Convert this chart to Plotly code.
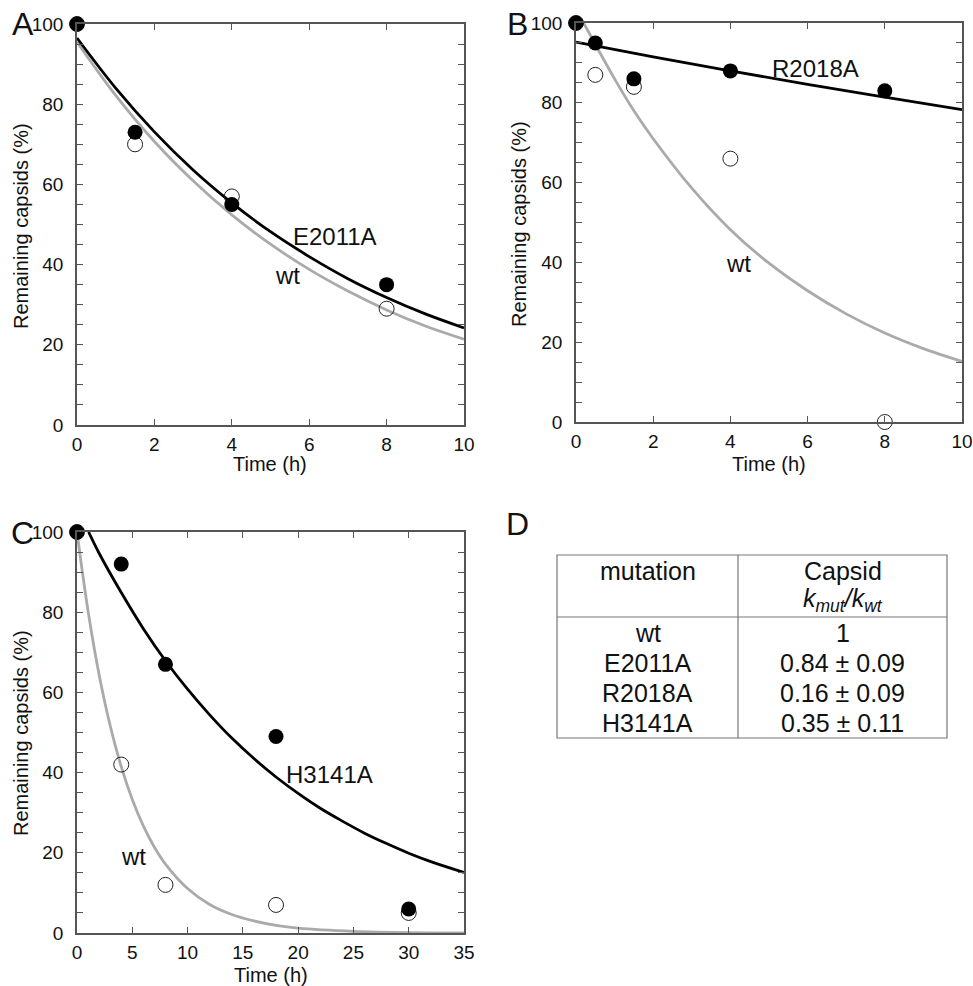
import plotly.graph_objects as go

W, H = 973, 986
FONT = "Liberation Sans, Arial, Helvetica, sans-serif"

# ---- Panel A: E2011A vs wt ----
a_time = [0, 1.5, 4, 8]
a_mut = [100, 73, 55, 35]
a_wt = [100, 70, 57, 29]
a_fit_t = [0, 1, 2, 3, 4, 5, 6, 7, 8, 9, 10]
a_fit_mut = [96.5, 84.0, 73.1, 63.6, 55.4, 48.2, 42.0, 36.5, 31.8, 27.7, 24.2]
a_fit_wt = [95.5, 82.2, 70.7, 60.9, 52.4, 45.1, 38.8, 33.4, 28.7, 24.7, 21.4]

# ---- Panel B: R2018A vs wt ----
b_time = [0, 0.5, 1.5, 4, 8]
b_mut = [100, 95, 86, 88, 83]
b_wt = [100, 87, 84, 66, 0]
b_fit_mut_t = [0, 2, 4, 6, 8, 10]
b_fit_mut = [95.2, 91.5, 88.0, 84.6, 81.4, 78.3]
b_fit_wt_t = [0.2, 1, 1.5, 2, 3, 4, 5, 6, 7, 8, 9, 10]
b_fit_wt = [100, 86.0, 78.0, 71.0, 58.6, 48.2, 39.8, 32.9, 27.1, 22.3, 18.4, 15.2]

# ---- Panel C: H3141A vs wt ----
c_time = [0, 4, 8, 18, 30]
c_mut = [100, 92, 67, 49, 6]
c_wt = [100, 42, 12, 7, 5]
c_fit_mut_t = [1.05, 2, 4, 6, 8, 10, 12, 14, 16, 18, 20, 22, 24, 26, 28, 30, 32, 35]
c_fit_mut = [100, 94.7, 84.9, 75.9, 67.9, 60.8, 54.4, 48.6, 43.5, 38.9, 34.8,
             31.1, 27.9, 24.9, 22.3, 19.9, 17.8, 15.1]
c_fit_wt_t = [0, 1, 2, 3, 4, 5, 6, 7, 8, 10, 12, 14, 16, 18, 20, 25, 30, 35]
c_fit_wt = [100, 80.3, 64.4, 51.7, 41.5, 33.3, 26.7, 21.4, 17.2, 11.1, 7.1,
            4.6, 3.0, 1.9, 1.2, 0.4, 0.1, 0.05]

# ---- Panel D: rate ratio table ----
tbl_mutation = ["wt", "E2011A", "R2018A", "H3141A"]
tbl_ratio = ["1", "0.84 \u00b1 0.09", "0.16 \u00b1 0.09", "0.35 \u00b1 0.11"]

BLACK = "#000000"
GREY = "#aaaaaa"
AXIS = "#555555"


def px(x):
    return x / W


def py(y):
    return 1 - y / H


fig = go.Figure()


def add_panel(n, t, mut, wt, fit_mut_t, fit_mut, fit_wt_t, fit_wt):
    xa = "x" if n == 1 else f"x{n}"
    ya = "y" if n == 1 else f"y{n}"
    fig.add_trace(go.Scatter(x=fit_wt_t, y=fit_wt, mode="lines", line_shape="spline",
                             line=dict(color=GREY, width=2.8), xaxis=xa, yaxis=ya,
                             showlegend=False, hoverinfo="skip"))
    fig.add_trace(go.Scatter(x=fit_mut_t, y=fit_mut, mode="lines", line_shape="spline",
                             line=dict(color=BLACK, width=2.8), xaxis=xa, yaxis=ya,
                             showlegend=False, hoverinfo="skip"))
    fig.add_trace(go.Scatter(x=t, y=wt, mode="markers", cliponaxis=False,
                             marker=dict(symbol="circle-open", size=15, color="#222222",
                                         line=dict(width=1)),
                             xaxis=xa, yaxis=ya, showlegend=False))
    fig.add_trace(go.Scatter(x=t, y=mut, mode="markers", cliponaxis=False,
                             marker=dict(symbol="circle", size=15, color=BLACK),
                             xaxis=xa, yaxis=ya, showlegend=False))


add_panel(1, a_time, a_mut, a_wt, a_fit_t, a_fit_mut, a_fit_t, a_fit_wt)
add_panel(2, b_time, b_mut, b_wt, b_fit_mut_t, b_fit_mut, b_fit_wt_t, b_fit_wt)
add_panel(3, c_time, c_mut, c_wt, c_fit_mut_t, c_fit_mut, c_fit_wt_t, c_fit_wt)

tickfont = dict(family=FONT, size=19, color="#111111")


def xaxis(domain, rng, dtick, anchor):
    return dict(domain=domain, range=rng, dtick=dtick, tick0=0, ticks="inside", ticklen=6,
                tickwidth=1.2, tickcolor=AXIS, showline=True, linecolor=AXIS, linewidth=1.5,
                mirror="ticks", showgrid=False, zeroline=False, tickfont=tickfont,
                ticklabelstandoff=1, anchor=anchor, fixedrange=True, automargin=False)


def yaxis(domain, anchor):
    return dict(domain=domain, range=[0, 100], dtick=20, tick0=0, ticks="inside", ticklen=6,
                tickwidth=1.2, tickcolor=AXIS, showline=True, linecolor=AXIS, linewidth=1.5,
                mirror="ticks", showgrid=False, zeroline=False, tickfont=tickfont,
                ticklabelstandoff=8, anchor=anchor, fixedrange=True, automargin=False,
                minor=dict(dtick=5, tick0=0, ticks="inside", ticklen=6, tickwidth=1.2,
                           tickcolor=AXIS, showgrid=False))


ax_a = [px(77), px(464)]
ay_a = [py(425), py(24)]
ax_b = [px(576), px(962)]
ay_b = [py(422), py(23)]
ax_c = [px(77), px(464)]
ay_c = [py(933), py(532)]

fig.update_layout(
    width=W, height=H, margin=dict(l=0, r=0, t=0, b=0, autoexpand=False),
    paper_bgcolor="white", plot_bgcolor="white",
    font=dict(family=FONT, color="#111111"),
    xaxis=xaxis(ax_a, [0, 10], 2, "y"),
    yaxis=yaxis(ay_a, "x"),
    xaxis2=xaxis(ax_b, [0, 10], 2, "y2"),
    yaxis2=yaxis(ay_b, "x2"),
    xaxis3=xaxis(ax_c, [0, 35], 5, "y3"),
    yaxis3=yaxis(ay_c, "x3"),
)

ann = []


def text(x, y, s, size, xref="paper", yref="paper", angle=0, **kw):
    ann.append(dict(x=x, y=y, xref=xref, yref=yref, text=s, showarrow=False,
                    textangle=angle, font=dict(family=FONT, size=size, color="#111111"),
                    xanchor="center", yanchor="middle", **kw))


# panel letters
text(px(23), py(24), "A", 32)
text(px(517), py(24), "B", 32)
text(px(22), py(533), "C", 32)
text(px(517), py(524), "D", 32)

# axis titles
for cx, cy in [(270, 464), (769, 464), (271, 975)]:
    text(px(cx), py(cy), "Time (h)", 20)
for cx, cy in [(21, 226), (519, 224), (21, 733)]:
    text(px(cx), py(cy), "Remaining capsids (%)", 20, angle=-90)

# curve labels
text(6.66, 47.0, "E2011A", 24, xref="x", yref="y")
text(5.45, 37.2, "wt", 24, xref="x", yref="y")
text(6.2, 88.7, "R2018A", 24, xref="x2", yref="y2")
text(4.21, 39.8, "wt", 24, xref="x2", yref="y2")
text(22.8, 39.5, "H3141A", 24, xref="x3", yref="y3")
text(5.1, 19.0, "wt", 24, xref="x3", yref="y3")

# table
T_L, T_R, T_M = 557, 947, 738
T_T, T_B, T_H = 555, 738, 617
col1 = (T_L + T_M) / 2
col2 = (T_M + T_R) / 2
shapes = [
    dict(type="rect", xref="paper", yref="paper", x0=px(T_L), x1=px(T_R), y0=py(T_B), y1=py(T_T),
         line=dict(color="#777777", width=1.2)),
    dict(type="line", xref="paper", yref="paper", x0=px(T_M), x1=px(T_M), y0=py(T_B), y1=py(T_T),
         line=dict(color="#777777", width=1.2)),
    dict(type="line", xref="paper", yref="paper", x0=px(T_L), x1=px(T_R), y0=py(T_H), y1=py(T_H),
         line=dict(color="#777777", width=1.2)),
]
text(px(col1), py(571), "mutation", 25)
text(px(col2), py(571), "Capsid", 25)
text(px(col2), py(600),
     "<i>k</i><sub><i>mut</i></sub><i>/k</i><sub><i>wt</i></sub>", 25)
for i, (m, r) in enumerate(zip(tbl_mutation, tbl_ratio)):
    yy = 633 + 30 * i
    text(px(col1), py(yy), m, 25)
    text(px(col2), py(yy), r, 25)

fig.update_layout(annotations=ann, shapes=shapes)
fig.write_html("out.html")
